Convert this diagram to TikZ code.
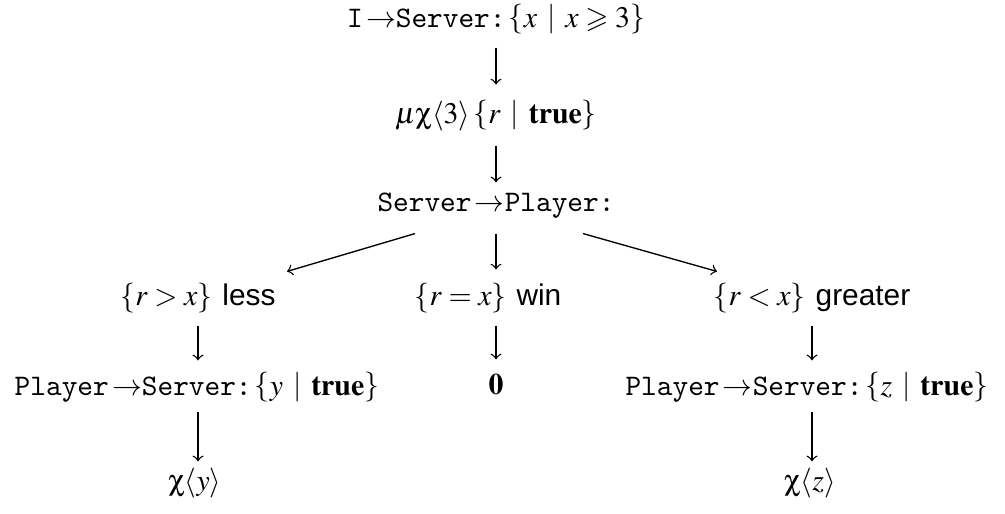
\documentclass[tikz,border=0pt]{standalone}
\usepackage[no-math]{fontspec}
\setsansfont{Liberation Sans}
\usepackage{mathptmx}
\usepackage{amssymb}
\usetikzlibrary{calc}

% protocol terms
\newcommand{\role}[1]{\texttt{#1}}
\newcommand{\sendto}{\,{\rightarrow}}
\newcommand{\refine}[2]{\left\{#1\mskip6mu\middle|\mskip6mu#2\right\}}
\newcommand{\upchi}{\mathord{\mbox{\usefont{U}{psy}{m}{n}c}}}

\begin{document}
\begin{tikzpicture}[x=0.335pt, y=-0.335pt,
    term/.style={inner sep=0pt, anchor=base, text height=7.5pt, text depth=2.5pt},
    flow/.style={->, line width=0.45pt}]
  \useasboundingbox (0,0) rectangle (1005,513);

  % spine
  \node[term] (send)   at (496,27)  {\role{I}$\sendto$\role{Server}\role{:}$\,\refine{x}{x\geqslant 3}$};
  \node[term] (loop)   at (496,123) {$\mu\upchi\langle 3\rangle\refine{r}{\mathbf{true}}$};
  \node[term] (choice) at (496,211) {\role{Server}$\sendto$\role{Player}\role{:}};

  % branches
  \node[term] (less)    at (198,305) {$\{r>x\}$ \textsf{less}};
  \node[term] (win)     at (488,305) {$\{r=x\}$ \textsf{win}};
  \node[term] (greater) at (812,305) {$\{r<x\}$ \textsf{greater}};

  \node[term] (guessy) at (197,395) {\role{Player}$\sendto$\role{Server}\role{:}$\,\refine{y}{\mathbf{true}}$};
  \node[term] (stop)   at (496,394) {$\mathbf{0}$};
  \node[term] (guessz) at (807,395) {\role{Player}$\sendto$\role{Server}\role{:}$\,\refine{z}{\mathbf{true}}$};

  \node[term] (recy) at (195,490) {$\upchi\langle y\rangle$};
  \node[term] (recz) at (810,490) {$\upchi\langle z\rangle$};

  % connectors
  \draw[flow, shorten <=4.2pt, shorten >=5.2pt] (send.south) -- (loop.north);
  \draw[flow, shorten <=4.9pt, shorten >=1.9pt] (loop.south) -- (choice.north);

  \draw[flow] ($(choice.south)+(-81,14.5)$) -- ($(less.north)+(89,-10.6)$);
  \draw[flow, shorten <=4.9pt, shorten >=4.2pt] (choice.south) -- (choice.south |- win.north);
  \draw[flow] ($(choice.south)+(87,14.5)$) -- ($(greater.north)+(-95,-10.6)$);

  \draw[flow, shorten <=4.2pt, shorten >=3.9pt] (less.south) -- (less.south |- guessy.north);
  \draw[flow, shorten <=4.2pt, shorten >=3.9pt] (choice.south |- win.south) -- (stop.north);
  \draw[flow, shorten <=4.2pt, shorten >=3.9pt] (greater.south) -- (greater.south |- guessz.north);

  \draw[flow, shorten <=2.9pt, shorten >=1.9pt] (less.south |- guessy.south) -- (less.south |- recy.north);
  \draw[flow, shorten <=2.9pt, shorten >=1.9pt] (greater.south |- guessz.south) -- (greater.south |- recz.north);
\end{tikzpicture}
\end{document}
